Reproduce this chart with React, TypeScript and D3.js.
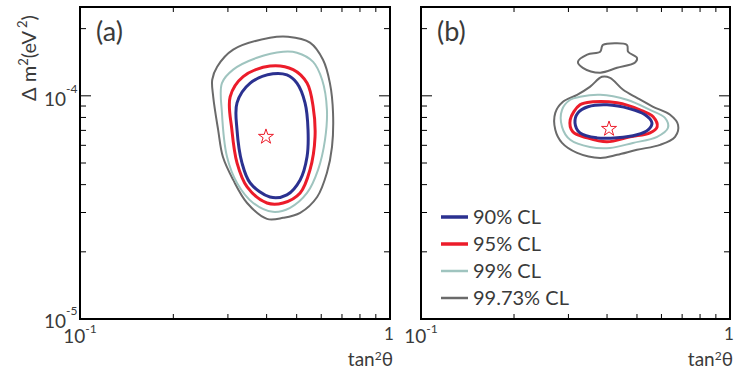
import React from 'react';
import * as d3 from 'd3';

type Pt = [number, number];

// confidence levels, legend order
const levels = ['90% CL', '95% CL', '99% CL', '99.73% CL'];
const levelColors = ['#2b3190', '#ec1c2a', '#9fc4bf', '#6a6a6a'];
const levelWidths = [3, 3, 2, 2];

// panel (a) contours: [tan^2 theta, dm^2]
const a90: Pt[] = [[0.419, 1.255e-4], [0.465, 1.24e-4], [0.501, 1.14e-4], [0.532, 9.3e-5], [0.544, 7.04e-5], [0.54, 5.33e-5], [0.513, 4.2e-5], [0.465, 3.6e-5], [0.41, 3.52e-5], [0.354, 4.07e-5], [0.333, 5.01e-5], [0.321, 7.04e-5], [0.321, 9.3e-5], [0.354, 1.14e-4]];
const a95: Pt[] = [[0.41, 1.36e-4], [0.487, 1.31e-4], [0.54, 1.14e-4], [0.565, 8.93e-5], [0.573, 6.55e-5], [0.552, 4.66e-5], [0.513, 3.67e-5], [0.452, 3.31e-5], [0.401, 3.31e-5], [0.346, 3.91e-5], [0.321, 5.01e-5], [0.309, 7.04e-5], [0.305, 9.9e-5], [0.336, 1.22e-4]];
const a99: Pt[] = [[0.452, 1.575e-4], [0.501, 1.56e-4], [0.565, 1.42e-4], [0.604, 1.18e-4], [0.626, 8.65e-5], [0.617, 6.35e-5], [0.586, 4.66e-5], [0.54, 3.67e-5], [0.476, 3.15e-5], [0.419, 3.02e-5], [0.362, 3.31e-5], [0.321, 4.07e-5], [0.298, 5.33e-5], [0.287, 8.39e-5], [0.287, 1.14e-4], [0.312, 1.31e-4], [0.372, 1.48e-4]];
const a9973: Pt[] = [[0.469, 1.84e-4], [0.552, 1.73e-4], [0.608, 1.45e-4], [0.64, 1.14e-4], [0.655, 8.39e-5], [0.65, 5.9e-5], [0.626, 4.52e-5], [0.582, 3.52e-5], [0.513, 2.99e-5], [0.452, 2.84e-5], [0.401, 2.81e-5], [0.346, 3.31e-5], [0.312, 4.2e-5], [0.289, 5.33e-5], [0.279, 7.04e-5], [0.269, 9.9e-5], [0.267, 1.18e-4], [0.277, 1.35e-4], [0.312, 1.61e-4], [0.41, 1.82e-4]];
const aBest: Pt = [0.398, 6.55e-5];

// panel (b) contours
const b90: Pt[] = [[0.347, 8.93e-5], [0.4, 9.11e-5], [0.475, 8.74e-5], [0.531, 8.22e-5], [0.559, 7.57e-5], [0.543, 7.04e-5], [0.5, 6.69e-5], [0.431, 6.48e-5], [0.371, 6.48e-5], [0.327, 6.82e-5], [0.315, 7.57e-5], [0.322, 8.39e-5]];
const b95: Pt[] = [[0.36, 9.4e-5], [0.431, 9.3e-5], [0.511, 8.65e-5], [0.564, 8.05e-5], [0.581, 7.26e-5], [0.551, 6.82e-5], [0.475, 6.55e-5], [0.4, 6.22e-5], [0.345, 6.48e-5], [0.31, 6.9e-5], [0.304, 7.81e-5], [0.327, 9.11e-5]];
const b99: Pt[] = [[0.327, 9.9e-5], [0.38, 1.01e-4], [0.464, 9.6e-5], [0.551, 8.65e-5], [0.616, 7.97e-5], [0.63, 7.19e-5], [0.581, 6.55e-5], [0.485, 6.15e-5], [0.409, 5.84e-5], [0.352, 5.9e-5], [0.304, 6.35e-5], [0.286, 7.26e-5], [0.286, 8.65e-5], [0.304, 9.6e-5]];
const b9973: Pt[] = [[0.385, 1.217e-4], [0.409, 1.204e-4], [0.451, 1.064e-4], [0.5, 9.79e-5], [0.564, 8.93e-5], [0.64, 8.22e-5], [0.679, 7.41e-5], [0.664, 6.55e-5], [0.594, 6.03e-5], [0.5, 5.73e-5], [0.431, 5.44e-5], [0.38, 5.27e-5], [0.32, 5.55e-5], [0.286, 6.15e-5], [0.272, 7.04e-5], [0.272, 8.39e-5], [0.288, 9.4e-5], [0.32, 1.01e-4], [0.352, 1.097e-4]];
const b9973Island: Pt[] = [[0.388, 1.69e-4], [0.464, 1.69e-4], [0.468, 1.575e-4], [0.5, 1.48e-4], [0.493, 1.41e-4], [0.431, 1.335e-4], [0.38, 1.27e-4], [0.334, 1.335e-4], [0.322, 1.42e-4], [0.345, 1.53e-4], [0.38, 1.575e-4], [0.385, 1.66e-4]];
const bBest: Pt = [0.406, 7.11e-5];

const xDomain = [0.1, 1];
const yDomain = [1e-5, 2.5e-4];
const xMinor = [0.2, 0.3, 0.4, 0.5, 0.6, 0.7, 0.8, 0.9];
const yMinor = [2e-5, 3e-5, 4e-5, 5e-5, 6e-5, 7e-5, 8e-5, 9e-5, 2e-4];
const yMajor = [1e-4];

const FONT = 'Lato, "DejaVu Sans", sans-serif';
const TEXT = '#3a3a3a';

interface PanelProps {
  left: number;
  right: number;
  label: string;
  contours: { pts: Pt[]; level: number }[];
  best: Pt;
  legend?: boolean;
}

const top = 7;
const bottom = 319;

const Panel: React.FC<PanelProps> = ({ left, right, label, contours, best, legend }) => {
  const x = d3.scaleLog().domain(xDomain).range([left, right]);
  const y = d3.scaleLog().domain(yDomain).range([bottom, top]);
  const line = d3.line<Pt>()
    .x(d => x(d[0]))
    .y(d => y(d[1]))
    .curve(d3.curveCatmullRomClosed.alpha(0.5));
  const star = d3.symbol().type(d3.symbolStar).size(70)();

  return (
    <g>
      {/* contours, outer first */}
      {[...contours].reverse().map((c, i) => (
        <path key={i} d={line(c.pts) || ''} fill="none"
          stroke={levelColors[c.level]} strokeWidth={levelWidths[c.level]} />
      ))}
      <path d={star || ''} transform={`translate(${x(best[0])},${y(best[1])})`}
        fill="none" stroke="#ec1c2a" strokeWidth={1} />

      {/* ticks, drawn inward on all four sides */}
      {xMinor.map(v => (
        <g key={v}>
          <line x1={x(v)} x2={x(v)} y1={bottom} y2={bottom - 5} stroke="#000" strokeWidth={1} />
          <line x1={x(v)} x2={x(v)} y1={top} y2={top + 5} stroke="#000" strokeWidth={1} />
        </g>
      ))}
      {yMinor.map(v => (
        <g key={v}>
          <line x1={left} x2={left + 6} y1={y(v)} y2={y(v)} stroke="#000" strokeWidth={1} />
          <line x1={right} x2={right - 6} y1={y(v)} y2={y(v)} stroke="#000" strokeWidth={1} />
        </g>
      ))}
      {yMajor.map(v => (
        <g key={v}>
          <line x1={left} x2={left + 11} y1={y(v)} y2={y(v)} stroke="#000" strokeWidth={1} />
          <line x1={right} x2={right - 11} y1={y(v)} y2={y(v)} stroke="#000" strokeWidth={1} />
        </g>
      ))}
      <rect x={left} y={top} width={right - left} height={bottom - top}
        fill="none" stroke="#000" strokeWidth={2} />

      {/* x tick labels */}
      <text x={x(0.1)} y={343} fontSize={19} fill={TEXT} textAnchor="middle" fontFamily={FONT}>
        10<tspan fontSize={12} dy={-10}>-1</tspan>
      </text>
      <text x={x(1) - 1} y={340} fontSize={17} fill={TEXT} textAnchor="middle" fontFamily={FONT}>1</text>
      <text x={right + 3} y={366} fontSize={19} fill={TEXT} textAnchor="end" fontFamily={FONT}>
        tan<tspan fontSize={12} dy={-6}>2</tspan><tspan dy={6}>θ</tspan>
      </text>

      <text x={left + 16} y={41} fontSize={27} fill={TEXT} fontFamily={FONT}>{label}</text>

      {legend && levels.map((l, i) => (
        <g key={l} transform={`translate(${left + 20},${217 + i * 27})`}>
          <line x1={0} x2={27} y1={0} y2={0} stroke={levelColors[i]} strokeWidth={levelWidths[i] + 0.5} />
          <text x={32} y={7} fontSize={20} fill={TEXT} fontFamily={FONT}>{l}</text>
        </g>
      ))}
    </g>
  );
};

const App: React.FC = () => {
  const yL = d3.scaleLog().domain(yDomain).range([bottom, top]);
  return (
    <svg width={735} height={369} style={{ position: 'absolute', left: 0, top: 0, background: '#fff' }}>
      <Panel left={80} right={390} label="(a)" best={aBest}
        contours={[{ pts: a90, level: 0 }, { pts: a95, level: 1 }, { pts: a99, level: 2 }, { pts: a9973, level: 3 }]} />
      <Panel left={421} right={730} label="(b)" best={bBest} legend
        contours={[{ pts: b90, level: 0 }, { pts: b95, level: 1 }, { pts: b99, level: 2 }, { pts: b9973, level: 3 }, { pts: b9973Island, level: 3 }]} />

      {/* y tick labels */}
      <text x={66} y={yL(1e-4) + 10} fontSize={19} fill={TEXT} textAnchor="end" fontFamily={FONT}>10</text>
      <text x={66} y={yL(1e-4) - 3} fontSize={12} fill={TEXT} fontFamily={FONT}>-4</text>
      <text x={66} y={yL(1e-5) + 9} fontSize={19} fill={TEXT} textAnchor="end" fontFamily={FONT}>10</text>
      <text x={66} y={yL(1e-5) - 4} fontSize={12} fill={TEXT} fontFamily={FONT}>-5</text>

      <text transform="translate(36,101) rotate(-90)" fontSize={20} fill={TEXT} fontFamily={FONT}>
        Δ m<tspan fontSize={13} dy={-8}>2</tspan><tspan dy={8}>(eV</tspan>
        <tspan fontSize={13} dy={-9} dx={3}>2</tspan><tspan dy={9}>)</tspan>
      </text>
    </svg>
  );
};

export default App;
